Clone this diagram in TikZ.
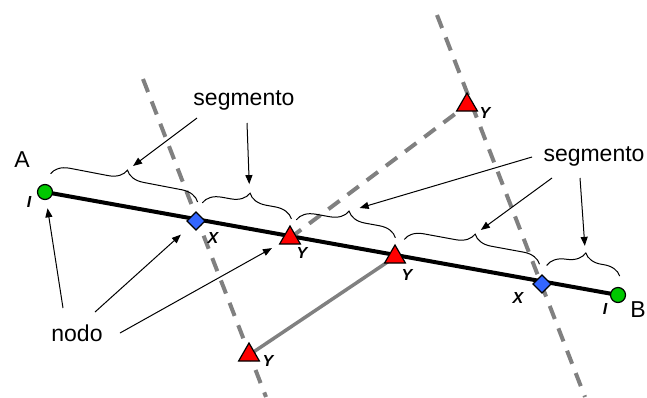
\documentclass[tikz,border=0pt]{standalone}
\usepackage{fontspec}
\setmainfont{Liberation Sans}
\usetikzlibrary{shapes.geometric,arrows.meta,decorations.pathreplacing,calc,backgrounds}
\definecolor{nodegreen}{RGB}{0,200,0}
\definecolor{nodeblue}{RGB}{51,102,255}
\definecolor{guidegray}{RGB}{128,128,128}
\begin{document}
\begin{tikzpicture}[x=1pt,y=-1pt,
  endnode/.style={circle, draw, fill=nodegreen, line width=1.2pt, minimum size=15pt, inner sep=0pt, outer sep=0pt},
  xnode/.style={diamond, draw, fill=nodeblue, line width=1.2pt, minimum size=18pt, inner sep=0pt, outer sep=0pt},
  ynode/.style={regular polygon, regular polygon sides=3, draw, fill=red, line width=1.2pt, minimum size=24pt, inner sep=0pt, outer sep=0pt},
  tag/.style={font=\fontsize{16}{16}\selectfont\bfseries\itshape, inner sep=0pt},
  txt/.style={font=\fontsize{23}{26}\selectfont, inner sep=0pt},
  guide/.style={draw=guidegray, line width=4pt, dash pattern=on 14pt off 10pt},
  seg/.style={decorate, decoration={brace, amplitude=18pt, raise=19pt}, line width=1pt},
  pointer/.style={-{Triangle[length=9pt,width=7pt]}, line width=1pt}]
\useasboundingbox (0,0) rectangle (647,397);

\node[endnode] (A) at (45,192) {};
\node[endnode] (B) at (618,295) {};
\node[xnode] (X1) at (196,221) {};
\node[xnode] (X2) at (542,284) {};
\node[ynode] (Y1) at (290,238) {};
\node[ynode] (Y2) at (395,257) {};
\node[ynode] (Yt) at (467,105) {};
\node[ynode] (Yb) at (249,355) {};

\coordinate (g1a) at (143,79);
\coordinate (g1b) at (266,397);
\coordinate (g2a) at (437,15);
\coordinate (g2b) at (585,397);

\begin{scope}[on background layer]
\draw[line width=4pt] (A) -- (B);
\draw[guide] (g1a) -- (g1b);
\draw[guide] (g2a) -- (g2b);
\draw[guide] (Y1.center) -- (Yt.center);
\draw[guidegray, line width=3.5pt] (Yb.center) -- (Y2.center);
\end{scope}

\node[txt] (nA) at (22,160) {A};
\node[txt] (nB) at (638,310) {B};
\node[txt] (seg1) at (244,100) {segmento};
\node[txt] (seg2) at (594,156) {segmento};
\node[txt] (nodo) at (77,333) {nodo};

\node[tag] (iA) at ([shift={(-16,10)}]A) {I};
\node[tag] (iB) at ([shift={(-13,14)}]B) {I};
\node[tag] (xl1) at ([shift={(17,17)}]X1) {X};
\node[tag] (xl2) at ([shift={(-24,14)}]X2) {X};
\node[tag] (yl1) at ([shift={(12,15)}]Y1) {Y};
\node[tag] (yl2) at ([shift={(12,18)}]Y2) {Y};
\node[tag] (ylt) at ([shift={(18,8)}]Yt) {Y};
\node[tag] (ylb) at ([shift={(19,6)}]Yb) {Y};

\draw[seg] ($(A)!2pt!(X1)$) -- ($(X1)!2pt!(A)$);
\draw[seg] ($(X1)!3pt!(Y1)$) -- ($(Y1)!2pt!(X1)$);
\draw[seg] ($(Y1)!3pt!(Y2)$) -- ($(Y2)!3pt!(Y1)$);
\draw[seg] ($(Y2)!6pt!(X2)$) -- ($(X2)!6pt!(Y2)$);
\draw[seg] ($(X2)!2pt!(B)$) -- ($(B)!1pt!(X2)$);

\coordinate (t1) at ($(A)!0.5!(X1)!37pt!90:(X1)$);
\coordinate (t2) at ($(X1)!0.5!(Y1)!37pt!90:(Y1)$);
\coordinate (t3) at ($(Y1)!0.5!(Y2)!37pt!90:(Y2)$);
\coordinate (t4) at ($(Y2)!0.5!(X2)!37pt!90:(X2)$);
\coordinate (t5) at ($(X2)!0.5!(B)!37pt!90:(B)$);

\draw[pointer, shorten >=7pt] ([shift={(-47,18)}]seg1.center) -- (t1);
\draw[pointer, shorten >=9pt] ([shift={(3,23)}]seg1.center) -- (t2);
\draw[pointer, shorten >=11pt] ([shift={(-62,1)}]seg2.center) -- (t3);
\draw[pointer, shorten >=7pt] ([shift={(-42,22)}]seg2.center) -- (t4);
\draw[pointer, shorten >=7pt] ([shift={(-14,22)}]seg2.center) -- (t5);

\draw[pointer, shorten >=9pt] ([shift={(-14,-25)}]nodo.center) -- (A);
\draw[pointer, shorten >=14pt] ([shift={(18,-21)}]nodo.center) -- (X1);
\draw[pointer, shorten >=9pt] ([shift={(43,0)}]nodo.center) -- (Y1);
\end{tikzpicture}
\end{document}
